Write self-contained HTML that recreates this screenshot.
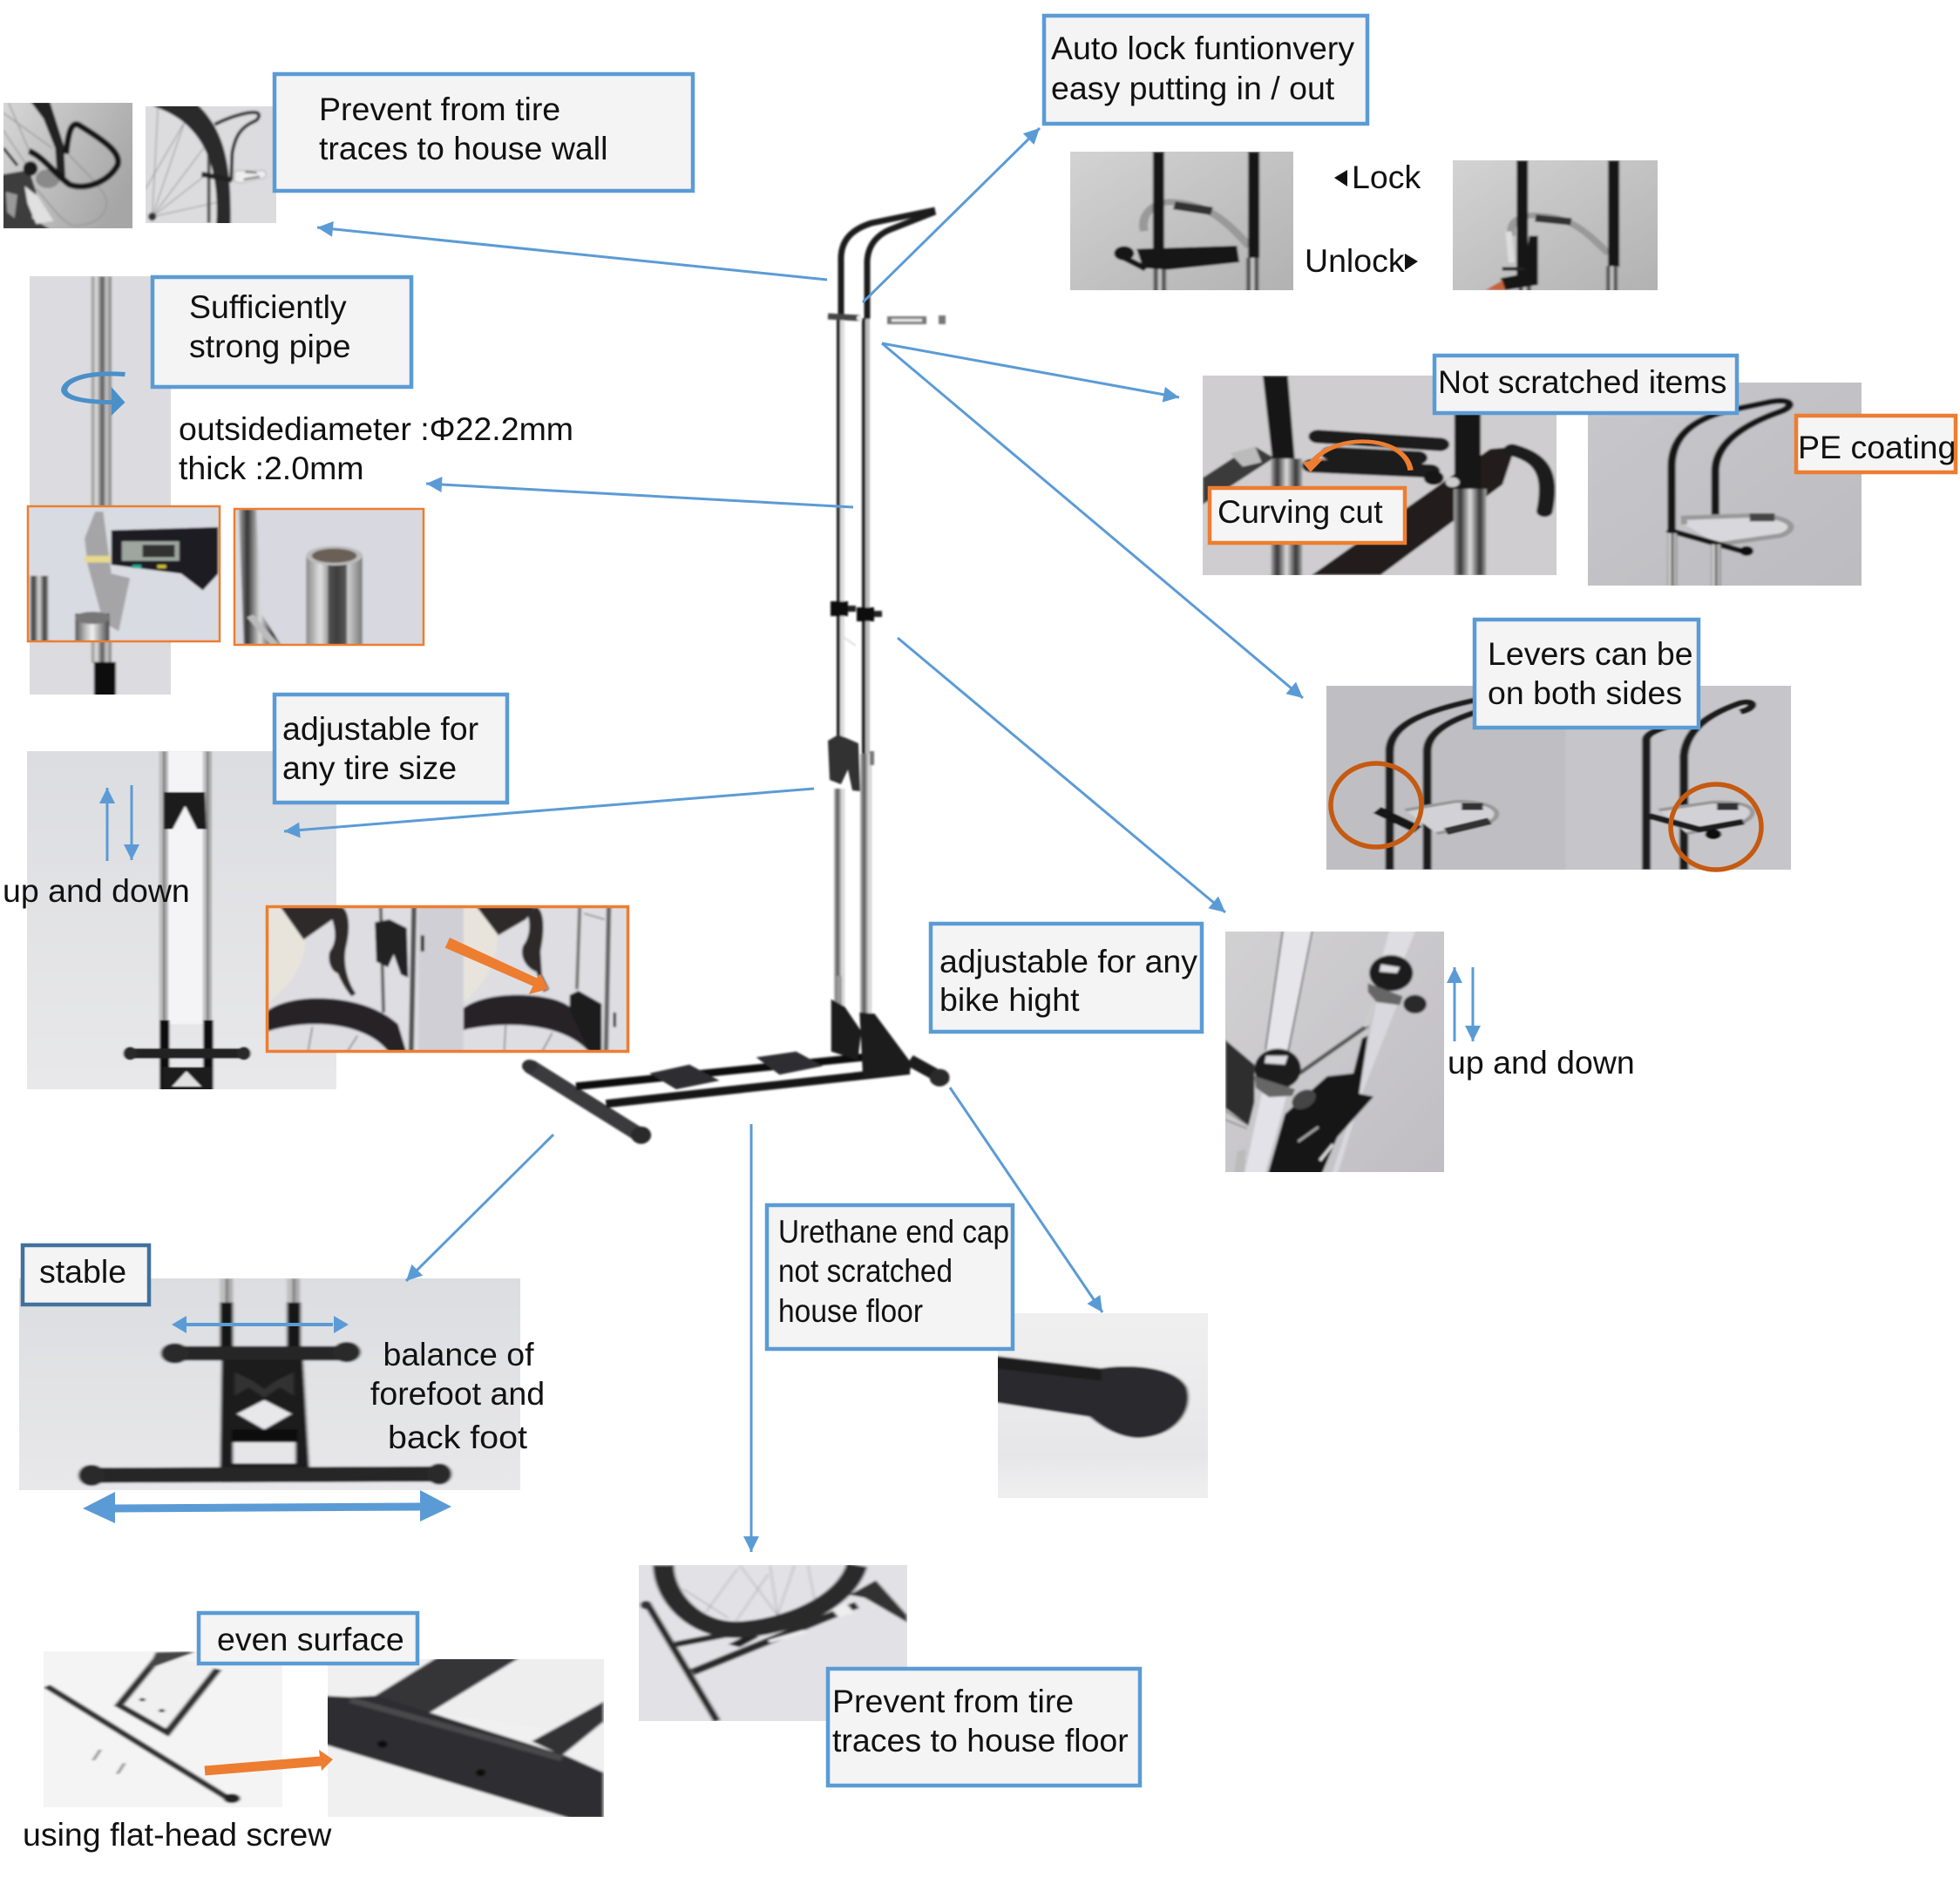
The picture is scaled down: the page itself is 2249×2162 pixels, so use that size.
<!DOCTYPE html>
<html><head><meta charset="utf-8"><style>
html,body{margin:0;padding:0;background:#fff}
svg{display:block}
text{font-family:"Liberation Sans",sans-serif;font-size:37.5px;fill:#111}
.c{fill:none;stroke:#5b9bd5;stroke-width:3}
.a{marker-end:url(#ah)}
.b{fill:#f4f4f5;stroke:#5b9bd5;stroke-width:4.5}
.o{fill:#f5f5f5;stroke:#ed7d31;stroke-width:4.5}
</style></head><body>
<svg xmlns="http://www.w3.org/2000/svg" width="2249" height="2162" viewBox="0 0 2249 2162">
<defs>
<marker id="ah" viewBox="0 0 10 10" refX="10" refY="5" markerUnits="userSpaceOnUse" markerWidth="20" markerHeight="18" orient="auto"><path d="M0 0L10 5L0 10Z" fill="#5b9bd5"/></marker>
<filter id="s" x="-20%" y="-20%" width="140%" height="140%"><feGaussianBlur stdDeviation="2"/></filter>
<filter id="m" x="-20%" y="-20%" width="140%" height="140%"><feGaussianBlur stdDeviation="4"/></filter>
<filter id="t" x="-20%" y="-20%" width="140%" height="140%"><feGaussianBlur stdDeviation="1"/></filter>
<linearGradient id="g1" x1="0" y1="0" x2="1" y2="0.5"><stop offset="0" stop-color="#dadada"/><stop offset="1" stop-color="#a6a6a6"/></linearGradient>
<linearGradient id="g2" x1="0" y1="0" x2="1" y2="1"><stop offset="0" stop-color="#d4d4d4"/><stop offset="1" stop-color="#b0b0b0"/></linearGradient>
<linearGradient id="g3" x1="0" y1="0" x2="1" y2="1"><stop offset="0" stop-color="#c8c8cc"/><stop offset="1" stop-color="#bcbcc0"/></linearGradient>
<linearGradient id="g4" x1="0" y1="0" x2="0" y2="1"><stop offset="0" stop-color="#dcdde0"/><stop offset="1" stop-color="#e8e8ea"/></linearGradient>
<linearGradient id="g5" x1="0" y1="0" x2="1" y2="1"><stop offset="0" stop-color="#d2d1d2"/><stop offset="1" stop-color="#bfbdc3"/></linearGradient>
<linearGradient id="g6" x1="0" y1="0" x2="0" y2="1"><stop offset="0" stop-color="#f0f0f1"/><stop offset=".75" stop-color="#e6e6e8"/><stop offset="1" stop-color="#f1f1f2"/></linearGradient>
<linearGradient id="chr" x1="0" y1="0" x2="1" y2="0"><stop offset="0" stop-color="#555"/><stop offset=".3" stop-color="#bbb"/><stop offset=".5" stop-color="#f2f2f2"/><stop offset=".75" stop-color="#999"/><stop offset="1" stop-color="#444"/></linearGradient>
<linearGradient id="chr2" x1="0" y1="0" x2="1" y2="0"><stop offset="0" stop-color="#888"/><stop offset=".25" stop-color="#e0e0e0"/><stop offset=".55" stop-color="#555"/><stop offset=".75" stop-color="#ccc"/><stop offset="1" stop-color="#777"/></linearGradient>
<linearGradient id="chr3" x1="0" y1="0" x2="1" y2="0"><stop offset="0" stop-color="#aaa"/><stop offset=".2" stop-color="#333"/><stop offset=".5" stop-color="#ddd"/><stop offset=".8" stop-color="#333"/><stop offset="1" stop-color="#aaa"/></linearGradient>
<linearGradient id="chr4" x1="0" y1="0" x2="1" y2="0"><stop offset="0" stop-color="#bbb"/><stop offset=".35" stop-color="#555"/><stop offset=".6" stop-color="#aaa"/><stop offset=".85" stop-color="#eee"/><stop offset="1" stop-color="#aaa"/></linearGradient>
</defs>

<!-- top-left photos -->
<svg x="4" y="118" width="148" height="144" viewBox="12 25 445 430" preserveAspectRatio="none"><g filter="url(#m)">
<rect x="-20" y="0" width="500" height="480" fill="url(#g1)"/>
<g stroke="#999" stroke-width="4"><path d="M12 60L180 180M12 120L100 250M30 25L110 210"/></g>
<path d="M240 205C290 260 340 300 365 350C380 410 320 450 250 445C210 430 180 380 125 320" fill="none" stroke="#999" stroke-width="5"/>
<path d="M105 20L172 20L220 170L226 285L198 290L190 180L150 80Z" fill="#222"/>
<path d="M12 270L100 255L125 330L110 420L175 460L-10 460L-10 270Z" fill="#3c3c3c"/>
<path d="M85 310L130 345L185 430L125 440L95 370Z" fill="#e0e0e0"/><path d="M20 330L60 340L50 420L25 400Z" fill="#999"/>
<path d="M12 180L60 240" stroke="#333" stroke-width="10"/>
<ellipse cx="165" cy="285" rx="42" ry="32" fill="#8a8a8a"/>
<circle cx="105" cy="250" r="25" fill="#1a1a1a"/>
<path d="M100 190C150 210 190 270 240 305C290 325 370 300 405 240C420 200 370 160 270 100C245 90 235 130 228 200" fill="none" stroke="#141414" stroke-width="21"/>
</g></svg>
<svg x="167" y="122" width="150" height="134" viewBox="502 38 450 399" preserveAspectRatio="none"><g filter="url(#m)">
<rect x="480" y="20" width="490" height="430" fill="#dcdcde"/>
<g stroke="#8f8f8f" stroke-width="3"><path d="M525 415L545 38M525 415L635 95M525 415L710 170M525 415L700 280M525 415L755 365M502 320L635 95"/></g>
<circle cx="525" cy="415" r="14" fill="#333"/>
<path d="M720 170L720 437" stroke="#555" stroke-width="12"/>
<path d="M530 30L680 30C760 110 800 200 795 445L745 445C755 300 730 170 630 90C590 60 560 50 530 38Z" fill="#2c2c2c"/>
<path d="M740 100C800 70 860 55 885 60C900 65 890 85 875 90C830 110 810 140 800 200L797 290" fill="none" stroke="#2a2a2a" stroke-width="12"/>
<path d="M695 270L800 290" stroke="#222" stroke-width="18"/>
<path d="M810 258L910 258C925 275 915 285 895 285L830 300L808 295Z" fill="#eee" stroke="#aaa" stroke-width="3"/>
<path d="M845 262L885 265M840 288L895 278" stroke="#555" stroke-width="6"/>
</g></svg>

<!-- pipe photo -->
<svg x="34" y="317" width="162" height="480" viewBox="47 622 226 941" preserveAspectRatio="none"><g filter="url(#s)">
<rect x="0" y="600" width="300" height="980" fill="#dcdce0"/>
<rect x="146" y="622" width="32" height="870" fill="url(#chr2)"/>
<rect x="150" y="1490" width="35" height="80" fill="#111"/>
</g></svg>
<svg x="32" y="581" width="220" height="155" viewBox="44 1138 308 305" preserveAspectRatio="none"><g filter="url(#s)">
<rect x="30" y="1120" width="330" height="340" fill="#d9dbe2"/>
<rect x="47" y="1295" width="30" height="150" fill="url(#chr3)"/>
<path d="M135 1210L152 1150L165 1150L178 1290L208 1300L190 1420L165 1400L140 1270Z" fill="#a5a5a8"/>
<rect x="120" y="1380" width="55" height="70" fill="url(#chr)"/><ellipse cx="148" cy="1390" rx="28" ry="14" fill="#777"/>
<rect x="135" y="1250" width="42" height="15" fill="#e6d98b"/>
<path d="M178 1192L350 1185L350 1290L325 1328L290 1290L178 1270Z" fill="#1d1d20"/>
<rect x="195" y="1217" width="92" height="44" fill="#9ea69f"/><rect x="228" y="1225" width="52" height="28" fill="#333"/>
<rect x="212" y="1270" width="14" height="8" fill="#2a9"/><rect x="252" y="1270" width="14" height="8" fill="#cb3"/>
</g></svg>
<svg x="269" y="584" width="217" height="156" viewBox="375 1145 303 305" preserveAspectRatio="none"><g filter="url(#s)">
<rect x="360" y="1130" width="330" height="340" fill="#d7d8e0"/>
<path d="M382 1145L410 1145L418 1380L450 1450L390 1450Z" fill="url(#chr3)"/>
<path d="M400 1385L440 1450" stroke="#bbb" stroke-width="12"/>
<rect x="490" y="1250" width="90" height="205" fill="url(#chr2)"/>
<rect x="525" y="1250" width="30" height="205" fill="#333" opacity=".7"/>
<ellipse cx="535" cy="1250" rx="45" ry="22" fill="#bbb"/><ellipse cx="535" cy="1250" rx="36" ry="16" fill="#6a6058"/>
</g></svg>

<!-- tire adjust photo -->
<svg x="31" y="862" width="355" height="388" viewBox="43 140 495 867" preserveAspectRatio="none"><g filter="url(#s)">
<rect x="30" y="130" width="520" height="890" fill="url(#g4)"/>
<rect x="268" y="140" width="60" height="700" fill="#f4f4f6"/>
<rect x="255" y="140" width="13" height="700" fill="url(#chr2)"/>
<rect x="325" y="140" width="13" height="700" fill="url(#chr2)"/>
<path d="M262 245L328 245L330 340L315 340L296 280L276 340L262 340Z" fill="#1b1b1b"/>
<rect x="255" y="830" width="16" height="180" fill="#111"/><rect x="325" y="830" width="16" height="180" fill="#111"/>
<rect x="198" y="902" width="200" height="26" rx="12" fill="#222"/><ellipse cx="208" cy="915" rx="11" ry="17" fill="#2a2a2a"/><ellipse cx="390" cy="915" rx="11" ry="17" fill="#2a2a2a"/>
<path d="M260 950L340 950L340 1010L260 1010Z" fill="#1c1c1c"/><path d="M275 1000L298 960L322 1000Z" fill="#e0e0e0"/>
</g></svg>

<!-- orange framed -->
<svg x="305" y="1039" width="417" height="169" viewBox="15 12 1250 506" preserveAspectRatio="none"><g filter="url(#m)">
<rect x="0" y="0" width="1280" height="530" fill="#dedee2"/>
<rect x="540" y="0" width="155" height="530" fill="#cfcfd5"/>
<path d="M20 10L60 10L150 120C155 200 110 280 20 345Z" fill="#e8e4dc"/>
<path d="M60 10L270 10L245 60L145 130Z" fill="#2e2a2a"/>
<path d="M270 15C300 20 310 80 290 160C280 220 300 280 325 315L310 325C280 290 265 250 262 245C240 240 225 200 235 170C265 130 250 80 240 50Z" fill="#2e2a2a"/>
<path d="M20 375C100 310 350 310 470 420L500 520L440 520C380 430 200 390 20 445Z" fill="#262428"/>
<path d="M175 430L160 515M330 460L295 515" stroke="#666" stroke-width="4"/>
<path d="M410 10L420 380" stroke="#666" stroke-width="12"/><path d="M525 10L515 515" stroke="#555" stroke-width="18"/>
<path d="M390 70L440 60L500 90L505 260L480 250L455 180L435 225L395 205Z" fill="#222"/>
<rect x="548" y="115" width="12" height="55" fill="#222"/>
<path d="M695 10L730 10L810 100C820 200 770 280 695 345Z" fill="#e8e4dc"/>
<path d="M735 10L945 10L910 60L815 115Z" fill="#2e2a2a"/>
<path d="M945 15C975 30 975 100 960 170L965 250L990 300L970 310L945 240C915 230 885 190 900 150C925 120 925 70 915 45Z" fill="#2e2a2a"/>
<path d="M695 365C780 300 1000 310 1060 360L1170 510L1130 520C1060 430 880 400 695 440Z" fill="#262428"/>
<path d="M840 425L835 515M1000 450L965 515" stroke="#666" stroke-width="4"/>
<path d="M1095 10L1085 300" stroke="#777" stroke-width="12"/><path d="M1195 10L1185 515" stroke="#666" stroke-width="16"/><path d="M1110 40L1180 60" stroke="#888" stroke-width="5"/>
<path d="M1060 320L1090 305L1170 350L1170 520L1130 520L1060 370Z" fill="#1e1e1e"/>
<rect x="1210" y="380" width="10" height="50" fill="#222"/>
</g></svg>
<rect x="306.500" y="1040.500" width="414" height="166" fill="none" stroke="#ed7d31" stroke-width="3.500"/>
<g transform="translate(300,1035) scale(.3333)"><path d="M648 123L632 158L935 290L920 318L988 300L960 248L948 262Z" fill="#ed7d31"/></g>

<!-- lock photos -->
<svg x="1228" y="174" width="256" height="159" viewBox="144 341 356 312" preserveAspectRatio="none"><g filter="url(#s)">
<rect x="130" y="330" width="390" height="340" fill="url(#g2)"/>
<path d="M262 520C255 480 280 450 310 455C360 460 390 490 430 555" fill="none" stroke="#999" stroke-width="14"/>
<path d="M310 462L370 475" stroke="#333" stroke-width="18"/>
<rect x="276" y="341" width="18" height="260" fill="#151515"/><rect x="276" y="600" width="22" height="60" fill="url(#chr3)"/>
<rect x="428" y="341" width="18" height="240" fill="#151515"/><rect x="424" y="580" width="22" height="80" fill="url(#chr3)"/>
<path d="M250 560L410 553L414 590L300 607L260 603Z" fill="#151515"/>
<circle cx="230" cy="570" r="16" fill="#151515"/><path d="M230 580L265 605" stroke="#151515" stroke-width="12"/>
</g></svg>
<svg x="1667" y="184" width="235" height="149" viewBox="756 360 327 292" preserveAspectRatio="none"><g filter="url(#s)">
<rect x="740" y="350" width="360" height="320" fill="url(#g2)"/>
<path d="M850 530C845 490 870 480 900 485C950 490 975 530 1005 570" fill="none" stroke="#999" stroke-width="13"/>
<path d="M888 490L945 498" stroke="#333" stroke-width="16"/>
<path d="M845 520L850 590" stroke="#ddd" stroke-width="10"/>
<rect x="858" y="360" width="18" height="270" fill="#151515"/><rect x="860" y="620" width="22" height="40" fill="url(#chr3)"/>
<rect x="1004" y="360" width="18" height="240" fill="#151515"/><rect x="1000" y="598" width="20" height="60" fill="url(#chr3)"/>
<path d="M878 530L892 530L892 640L840 652L832 625L870 615Z" fill="#151515"/><rect x="835" y="600" width="35" height="8" fill="#222"/>
<path d="M808 652L835 630L840 652Z" fill="#c6633a"/>
</g></svg>

<!-- curving cut photo -->
<svg x="1380" y="431" width="406" height="229" viewBox="356 845 565 449" preserveAspectRatio="none"><g filter="url(#s)">
<rect x="340" y="830" width="600" height="480" fill="#cfcdcf"/>
<path d="M356 1075L405 1030L440 1005L470 1030L356 1135Z" fill="#3a3a3a"/><path d="M400 1020L440 1005L450 1040L420 1050Z" fill="#bbb"/>
<path d="M452 845L492 845L503 1032L467 1032Z" fill="#141414"/>
<rect x="465" y="1032" width="50" height="265" fill="url(#chr3)"/>
<path d="M530 1294L815 1010L855 1005L835 1090L640 1294Z" fill="#231b1b"/>
<rect x="758" y="930" width="42" height="170" fill="#141414"/><rect x="757" y="1100" width="52" height="195" fill="url(#chr3)"/>
<path d="M540 982L735 1000M530 1048L720 1060M560 1020L700 1030" stroke="#1d1d1d" stroke-width="30" stroke-linecap="round" fill="none"/>
<path d="M850 1012C895 1030 915 1060 902 1150" fill="none" stroke="#1c1c1c" stroke-width="26" stroke-linecap="round"/>
<circle cx="725" cy="1075" r="16" fill="#181818"/><circle cx="755" cy="1085" r="11" fill="#ccc"/>
</g></svg>
<g transform="translate(1125,0) scale(.7174,.5102)">
<path d="M688 1058C680 980 570 970 530 1040" fill="none" stroke="#ed7d31" stroke-width="9"/><path d="M515 1040L550 1030L528 1062Z" fill="#ed7d31"/>
</g>

<!-- PE photo -->
<svg x="1822" y="439" width="314" height="233" viewBox="971 860 438 458" preserveAspectRatio="none"><g filter="url(#s)">
<rect x="960" y="850" width="460" height="480" fill="url(#g3)"/>
<path d="M1105 1195L1105 1050C1105 980 1140 945 1190 925L1265 903C1300 895 1300 915 1280 925C1230 950 1175 990 1175 1060L1175 1195" fill="none" stroke="#161616" stroke-width="13"/>
<path d="M1125 1180L1125 1165L1230 1160C1300 1160 1310 1190 1280 1205L1180 1225" fill="#d8d8dc" stroke="#999" stroke-width="10"/>
<rect x="1230" y="1155" width="40" height="18" fill="#444"/>
<path d="M1098 1192L1230 1245" stroke="#151515" stroke-width="12"/><circle cx="1225" cy="1240" r="11" fill="#111"/>
<rect x="1098" y="1200" width="16" height="120" fill="url(#chr2)"/><rect x="1168" y="1225" width="16" height="95" fill="url(#chr2)"/>
</g></svg>

<!-- levers photo -->
<svg x="1522" y="787" width="533" height="211" viewBox="554 -29 742 472" preserveAspectRatio="none"><g filter="url(#s)">
<rect x="540" y="-40" width="400" height="500" fill="#bfbfc3"/><rect x="937" y="-40" width="370" height="500" fill="#c6c6ca"/>
<path d="M655 443L655 140C655 70 710 35 800 5" fill="none" stroke="#1a1a1a" stroke-width="14"/>
<path d="M715 443L715 140C715 90 750 60 800 35" fill="none" stroke="#1a1a1a" stroke-width="14"/>
<path d="M680 290L760 268C820 265 845 300 810 325L730 350" fill="#d2d2d6" stroke="#999" stroke-width="8"/>
<rect x="770" y="272" width="34" height="18" fill="#333"/><path d="M745 345L815 318" stroke="#333" stroke-width="18"/>
<path d="M635 290L700 340" stroke="#151515" stroke-width="20"/>
<path d="M1065 443L1065 110C1065 95 1080 85 1100 75" fill="none" stroke="#1a1a1a" stroke-width="14"/>
<path d="M1125 443L1125 150C1130 70 1180 35 1215 15C1240 5 1240 30 1215 38" fill="none" stroke="#1a1a1a" stroke-width="14"/>
<path d="M1085 290L1170 270C1240 265 1250 300 1215 325L1130 350" fill="#d2d2d6" stroke="#999" stroke-width="8"/>
<rect x="1178" y="272" width="34" height="18" fill="#333"/><path d="M1070 305L1150 340L1220 320" stroke="#1c1c1c" stroke-width="15" fill="none"/>
<circle cx="1172" cy="352" r="13" fill="#111"/>
</g></svg>
<ellipse cx="1579" cy="924" rx="52" ry="48" fill="none" stroke="#c55a11" stroke-width="5.500"/>
<ellipse cx="1969" cy="949" rx="52" ry="49" fill="none" stroke="#c55a11" stroke-width="5.500"/>

<!-- bike height photo -->
<svg x="1406" y="1069" width="251" height="276" viewBox="0 12 752 828" preserveAspectRatio="none"><g filter="url(#m)">
<rect x="-20" y="0" width="800" height="860" fill="url(#g5)"/>
<path d="M200 5L305 5L215 440L135 440Z" fill="#e6e6ea"/><path d="M198 5L138 420M300 5L215 430" stroke="#555" stroke-width="5"/>
<path d="M125 570L210 580L135 850L65 850Z" fill="#e2e2e8"/>
<path d="M565 5L655 5L600 140L530 130Z" fill="#dedee2"/>
<path d="M520 250L590 265L470 570L385 850L365 850L460 560Z" fill="#d8d8de"/>
<path d="M0 385L100 470L100 600L80 680L0 620Z" fill="#2e2e2e"/>
<path d="M0 630L80 680M0 660L75 690" stroke="#777" stroke-width="4"/>
<path d="M255 500L490 335" stroke="#555" stroke-width="14"/>
<path d="M480 340L510 260" stroke="#ccc" stroke-width="14"/>
<path d="M205 640L350 510L440 500L470 380L490 370L460 570L510 580L385 720L330 850L145 850Z" fill="#161616"/>
<path d="M250 735L320 685" stroke="#aaa" stroke-width="8"/><path d="M325 800L370 745" stroke="#ddd" stroke-width="10"/>
<ellipse cx="180" cy="485" rx="80" ry="70" fill="#1a1a1a"/><path d="M140 440L215 440L205 470L135 465Z" fill="#dedee2"/>
<path d="M100 510L240 555L230 578L150 582L105 550Z" fill="#666"/>
<ellipse cx="570" cy="155" rx="75" ry="62" fill="#1a1a1a"/><path d="M535 125L600 135L590 155L530 150Z" fill="#dedee2"/>
<path d="M490 190L610 235L600 265L520 255L490 220Z" fill="#666"/>
<ellipse cx="652" cy="262" rx="40" ry="32" fill="#2a2a2a"/>
<ellipse cx="270" cy="590" rx="44" ry="30" fill="#444" transform="rotate(-30 270 590)"/>
<path d="M40 770L70 760L65 850L30 850Z" fill="#bbb"/>
</g></svg>

<!-- balance photo -->
<svg x="22" y="1467" width="575" height="243" viewBox="25 138 644 500" preserveAspectRatio="none"><g filter="url(#s)">
<rect x="10" y="120" width="680" height="530" fill="url(#g4)"/>
<rect x="284" y="138" width="15" height="60" fill="url(#chr2)"/><rect x="370" y="138" width="15" height="60" fill="url(#chr2)"/>
<rect x="283" y="195" width="17" height="125" fill="#141414"/><rect x="369" y="195" width="18" height="125" fill="#141414"/>
<path d="M225 315L445 315" stroke="#262626" stroke-width="34" stroke-linecap="butt"/>
<ellipse cx="225" cy="315" rx="18" ry="24" fill="#2a2a2a"/><ellipse cx="446" cy="312" rx="18" ry="24" fill="#2a2a2a"/>
<path d="M285 330L390 330L398 585L283 585Z" fill="#1d1d1d"/>
<path d="M340 425L375 458L340 495L305 458Z" fill="#e8e8ea"/>
<path d="M302 360L325 380L340 400L355 380L378 360L378 415L360 395L340 420L320 395L302 415Z" fill="#333"/>
<rect x="300" y="525" width="80" height="50" fill="#e6e6e8"/><rect x="298" y="495" width="85" height="25" fill="#111"/>
<path d="M120 603L565 600" stroke="#262626" stroke-width="36"/>
<ellipse cx="118" cy="603" rx="17" ry="25" fill="#2a2a2a"/><ellipse cx="565" cy="600" rx="16" ry="25" fill="#2a2a2a"/>
</g></svg>

<!-- end cap photo -->
<svg x="1145" y="1507" width="241" height="212" viewBox="1282 220 270 437" preserveAspectRatio="none"><g filter="url(#s)">
<rect x="1270" y="210" width="290" height="460" fill="url(#g6)"/>
<path d="M1275 320L1415 350C1450 340 1510 345 1525 395C1535 450 1510 515 1460 515C1430 510 1410 480 1400 465L1275 430Z" fill="#2c2c2e"/>
<path d="M1275 325L1415 355L1415 380L1275 350Z" fill="#1a1a1a"/>
</g></svg>

<!-- wheel floor photo -->
<svg x="733" y="1796" width="308" height="179" viewBox="823 18 710 535" preserveAspectRatio="none"><g filter="url(#m)">
<rect x="800" y="0" width="760" height="570" fill="#e2e2e6"/>
<g stroke="#888" stroke-width="2"><path d="M1190 190L1090 18M1190 190L1170 18M1190 190L1235 18M1190 190L1330 130M1060 200L940 100M1000 180L1085 30M1080 210L1165 50M1290 150L1270 18"/></g>
<path d="M845 150L1030 553" stroke="#2a2a2a" stroke-width="20"/>
<circle cx="842" cy="155" r="15" fill="#333"/>
<path d="M920 290L1060 255" stroke="#2a2a2a" stroke-width="20"/>
<path d="M965 385L1400 155" stroke="#2a2a2a" stroke-width="24"/>
<path d="M1060 290L1120 250L1140 265L1090 300Z" fill="#222"/>
<path d="M1380 120L1450 70L1533 190L1533 215L1420 130Z" fill="#333"/>
<path d="M888 18C890 130 970 240 1080 240C1210 235 1370 150 1400 18" fill="none" stroke="#2a2a2c" stroke-width="56"/>
<path d="M1165 275L1260 240L1265 250L1170 285Z" fill="#eee"/><path d="M1335 172L1370 147L1392 180L1352 198Z" fill="#eee"/>
</g></svg>

<!-- flat screw photos -->
<svg x="50" y="1895" width="274" height="179" viewBox="56 1018 307 368" preserveAspectRatio="none"><g filter="url(#s)">
<rect x="50" y="1010" width="320" height="380" fill="#f4f4f4"/>
<path d="M60 1100L298 1370" stroke="#333" stroke-width="11"/><circle cx="298" cy="1365" r="11" fill="#222"/>
<path d="M208 1022L153 1145L215 1210L280 1060" fill="#f0f0f0" stroke="#333" stroke-width="11"/>
<path d="M190 1060L250 1020L240 1018L200 1020Z" fill="#444"/>
<circle cx="183" cy="1132" r="4" fill="#333"/><circle cx="208" cy="1158" r="4" fill="#333"/>
<path d="M129 1250L120 1275M160 1282L151 1307" stroke="#444" stroke-width="3"/>
</g></svg>
<svg x="376" y="1904" width="317" height="181" viewBox="0 342 731 553" preserveAspectRatio="none"><g filter="url(#m)">
<rect x="-20" y="320" width="770" height="590" fill="#f0f0f0"/>
<path d="M290 530L500 342L731 342L731 490L620 590Z" fill="#eeeeef"/>
<path d="M120 475L290 335L510 335L270 530L180 510Z" fill="#363638"/>
<path d="M540 630L731 490L731 560L620 680Z" fill="#333335"/>
<path d="M-10 470L60 475L130 470L630 680L731 740L731 900L640 900L-10 640Z" fill="#2e2e30"/>
<path d="M60 485L620 690" stroke="#4a4a4c" stroke-width="20"/>
<circle cx="145" cy="640" r="13" fill="#111"/><circle cx="405" cy="740" r="13" fill="#111"/>
</g></svg>

<!-- main stand -->
<g filter="url(#t)">
<rect x="960" y="365" width="4" height="480" fill="#1c1c1c"/><rect x="964" y="365" width="5" height="480" fill="#ddd"/>
<rect x="989" y="365" width="4" height="500" fill="#1c1c1c"/><rect x="993" y="365" width="5" height="500" fill="#bbb"/>
<path d="M965 366L965 297C965 275 978 263 1000 256L1073 241" fill="none" stroke="#1e1e1e" stroke-width="7"/>
<path d="M995 366L995 300C996 280 1008 268 1025 262L1073 243" fill="none" stroke="#1e1e1e" stroke-width="7"/>
<path d="M950 363L987 365" stroke="#444" stroke-width="7"/><circle cx="986" cy="365" r="3" fill="#eee"/>
<rect x="1018" y="363" width="45" height="9" fill="#777"/><rect x="1023" y="366" width="35" height="3" fill="#eee"/>
<rect x="1077" y="362" width="8" height="10" fill="#777"/>
<rect x="953" y="690" width="20" height="17" fill="#111"/><rect x="973" y="695" width="9" height="7" fill="#222"/>
<rect x="983" y="697" width="20" height="16" fill="#111"/><rect x="1003" y="701" width="9" height="7" fill="#222"/>
<path d="M966 730L982 741" stroke="#ddd" stroke-width="2"/>
<rect x="957" y="905" width="12" height="285" fill="url(#chr4)"/><rect x="987" y="865" width="13" height="325" fill="url(#chr4)"/>
<rect x="960" y="1120" width="6" height="70" fill="#999"/>
<path d="M950 850L962 843L985 853L987 908L978 907L973 883L965 900L952 895Z" fill="#333"/>
<rect x="998" y="862" width="5" height="16" fill="#777"/>
<g transform="translate(550,1050) scale(.3827,.3333)">
<path d="M150 520L485 760" stroke="#3a3a3c" stroke-width="48"/>
<path d="M290 590L1150 490" stroke="#111" stroke-width="26"/>
<path d="M380 650L1290 535" stroke="#141414" stroke-width="28"/>
<path d="M510 545L630 515L720 570L590 600Z" fill="#2e2e30"/>
<path d="M830 490L950 470L1030 520L900 550Z" fill="#2e2e30"/>
<path d="M1055 290L1095 315L1145 400L1135 500L1055 470Z" fill="#1a1a1a"/>
<path d="M1140 335L1185 340L1295 510L1290 545L1150 560Z" fill="#1a1a1a"/>
<path d="M1290 500L1385 560" stroke="#1a1a1a" stroke-width="40"/>
<circle cx="1380" cy="560" r="30" fill="#2a2a2a"/><circle cx="485" cy="758" r="30" fill="#2a2a2a"/><circle cx="150" cy="520" r="22" fill="#333"/>
</g>
</g>

<!-- connectors -->
<path class="c a" d="M949 321L364 261"/>
<path class="c a" d="M990 347L1193 147"/>
<path class="c a" d="M1012 394L1353 456"/>
<path class="c a" d="M1012 394L1495 801"/>
<path class="c a" d="M979 582L489 555"/>
<path class="c a" d="M934 905L326 954"/>
<path class="c a" d="M1030 732L1406 1047"/>
<path class="c a" d="M635 1302L466 1470"/>
<path class="c a" d="M862 1290L862 1781"/>
<path class="c a" d="M1090 1248L1265 1506"/>
<path class="c a" d="M123 988L123 904"/><path class="c a" d="M151 901L151 987"/>
<path class="c a" d="M1669 1195L1669 1110"/><path class="c a" d="M1690 1110L1690 1195"/>

<!-- blue rotate arrow -->
<g transform="scale(.7174,.5102)"><path d="M200 842C130 835 100 860 103 880C108 900 150 905 185 905" fill="none" stroke="#4a90c8" stroke-width="10"/><path d="M178 870L200 905L178 935Z" fill="#4a90c8"/></g>

<!-- balance arrows -->
<g fill="#5b9bd5">
<path d="M205 1520L382 1520" stroke="#5b9bd5" stroke-width="4"/><path d="M197 1520L214 1510L214 1530Z"/><path d="M400 1520L383 1510L383 1530Z"/>
<path d="M120 1731L485 1729" stroke="#5b9bd5" stroke-width="9"/><path d="M95 1731L132 1712L132 1748Z"/><path d="M518 1729L482 1710L482 1746Z"/>
</g>
<path d="M235 2032L368 2021" stroke="#ed7d31" stroke-width="11"/><path d="M382 2019L366 2008L369 2032Z" fill="#ed7d31"/>

<!-- orange photo frames -->
<rect x="32" y="581" width="220" height="155" fill="none" stroke="#ed7d31" stroke-width="2.500"/>
<rect x="269" y="584" width="217" height="156" fill="none" stroke="#ed7d31" stroke-width="2.500"/>

<!-- boxes -->
<rect class="b" x="315" y="85" width="480" height="134"/>
<text x="366" y="138">Prevent from tire</text><text x="366" y="183">traces to house wall</text>
<rect class="b" x="1198" y="18" width="371" height="124"/>
<text x="1206" y="68">Auto lock funtionvery</text><text x="1206" y="114">easy putting in / out</text>
<rect class="b" x="175" y="318" width="297" height="126"/>
<text x="217" y="365">Sufficiently</text><text x="217" y="410">strong pipe</text>
<text x="205" y="505">outsidediameter :Φ22.2mm</text><text x="205" y="550">thick :2.0mm</text>
<rect class="b" x="315" y="797" width="267" height="124"/>
<text x="324" y="849">adjustable for</text><text x="324" y="894">any tire size</text>
<text x="3" y="1035">up and down</text>
<path d="M1546 195L1531 204L1546 214Z" fill="#111"/><text x="1551" y="216">Lock</text>
<text x="1497" y="312">Unlock</text><path d="M1612 291L1627 300L1612 310Z" fill="#111"/>
<rect class="b" x="1646" y="408" width="347" height="66"/><text x="1650" y="451">Not scratched items</text>
<rect class="o" x="1388" y="560" width="224" height="63"/><text x="1397" y="600">Curving cut</text>
<rect class="o" x="2061" y="477" width="183" height="65"/><text x="2063" y="526">PE coating</text>
<rect class="b" x="1692" y="711" width="257" height="124"/>
<text x="1707" y="763">Levers can be</text><text x="1707" y="808">on both sides</text>
<rect class="b" x="1068" y="1060" width="311" height="124"/>
<text x="1078" y="1116">adjustable for any</text><text x="1078" y="1160">bike hight</text>
<text x="1661" y="1232">up and down</text>
<rect x="26" y="1429" width="145" height="68" fill="#f4f4f5" stroke="#41719c" stroke-width="4.500"/><text x="45" y="1472">stable</text>
<text x="526" y="1567" text-anchor="middle">balance of</text><text x="525" y="1612" text-anchor="middle">forefoot and</text><text x="445" y="1662" textLength="160" lengthAdjust="spacingAndGlyphs">back foot</text>
<rect class="b" x="880" y="1383" width="282" height="165"/>
<text x="893" y="1426" textLength="265" lengthAdjust="spacingAndGlyphs">Urethane end cap</text><text x="893" y="1471" textLength="200" lengthAdjust="spacingAndGlyphs">not scratched</text><text x="893" y="1517" textLength="166" lengthAdjust="spacingAndGlyphs">house floor</text>
<rect class="b" x="228" y="1851" width="251" height="58"/><text x="249" y="1894">even surface</text>
<rect class="b" x="950" y="1915" width="358" height="134"/>
<text x="955" y="1965">Prevent from tire</text><text x="955" y="2010">traces to house floor</text>
<text x="26" y="2118">using flat-head screw</text>
</svg>
</body></html>
